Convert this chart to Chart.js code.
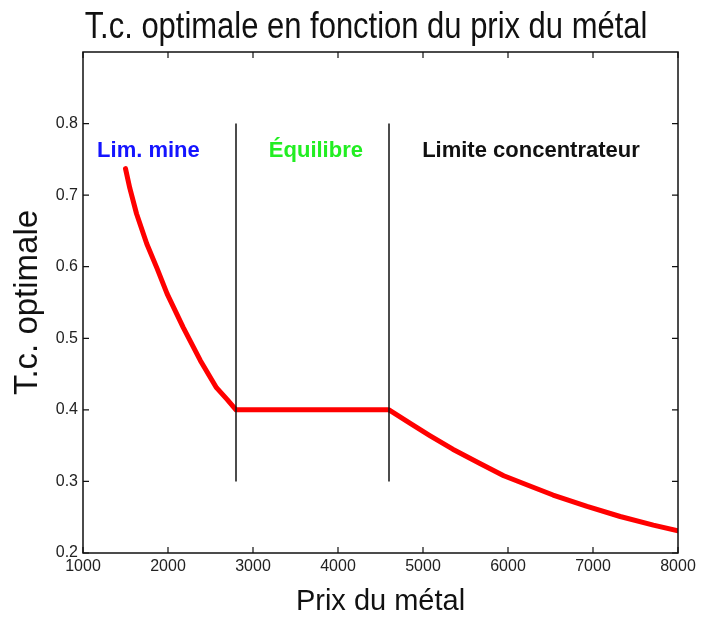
<!DOCTYPE html>
<html><head><meta charset="utf-8">
<script src="https://cdn.jsdelivr.net/npm/chart.js@4"></script>
<style>html,body{margin:0;padding:0;background:#fff}#wrap{width:701px;height:621px}</style>
</head><body><div id="wrap"><canvas id="c" width="701" height="621"></canvas></div>
<script>
// ---- data ----
const prixMetal  = [1500, 1550, 1630, 1750, 1870, 1990, 2180, 2380, 2570, 2700, 2800, 4600, 4850, 5080, 5350, 5670, 5950, 6250, 6530, 6930, 7320, 7710, 8000];
const tcOptimale = [0.737, 0.71, 0.674, 0.632, 0.598, 0.562, 0.515, 0.469, 0.431, 0.414, 0.40, 0.40, 0.381, 0.364, 0.345, 0.325, 0.308, 0.294, 0.281, 0.265, 0.251, 0.239, 0.231];
const frontieres = [2800, 4600];
const frontiereY = [0.3, 0.8];
const zoneNoms = ['Lim. mine', 'Équilibre', 'Limite concentrateur'];
const zoneAncreX = [1770, 3740, 6270];
const zoneAncreY = 0.762;
const zoneCouleurs = ['#1414ff', '#22ee22', '#111111'];
const xTicks = [1000, 2000, 3000, 4000, 5000, 6000, 7000, 8000];
const yTicks = [0.2, 0.3, 0.4, 0.5, 0.6, 0.7, 0.8];
const titre = 'T.c. optimale en fonction du prix du métal';

const fam = "'Liberation Sans', Arial, sans-serif";

const points = prixMetal.map((x, i) => ({x, y: tcOptimale[i]}));
const lignes = frontieres.map(x => ({
  data: frontiereY.map(y => ({x, y})),
  borderColor: '#111', borderWidth: 1.5, pointRadius: 0, showLine: true
}));

const framePlugin = {
  id: 'frame',
  afterDraw(chart){
    const {ctx, chartArea: a, scales: {x, y}} = chart;
    ctx.save();
    ctx.strokeStyle = '#111'; ctx.lineWidth = 1.5;
    ctx.strokeRect(a.left, a.top, a.right - a.left, a.bottom - a.top);
    ctx.lineWidth = 1.2;
    const L = 6;
    ctx.beginPath();
    xTicks.forEach(v => { const p = x.getPixelForValue(v);
      ctx.moveTo(p, a.bottom); ctx.lineTo(p, a.bottom - L);
      ctx.moveTo(p, a.top); ctx.lineTo(p, a.top + L); });
    yTicks.forEach(v => { const p = y.getPixelForValue(v);
      ctx.moveTo(a.left, p); ctx.lineTo(a.left + L, p);
      ctx.moveTo(a.right, p); ctx.lineTo(a.right - L, p); });
    ctx.stroke();
    // title (condensed look)
    ctx.fillStyle = '#111';
    ctx.font = '36px ' + fam;
    ctx.textAlign = 'center'; ctx.textBaseline = 'middle';
    ctx.translate(366, 28);
    ctx.scale(0.86, 1);
    ctx.fillText(titre, 0, 0);
    ctx.restore();
  }
};
const zonesPlugin = {
  id: 'zones',
  afterDatasetsDraw(chart){
    const {ctx, scales: {x, y}} = chart;
    ctx.save();
    ctx.font = 'bold 22px ' + fam;
    ctx.textAlign = 'center'; ctx.textBaseline = 'middle';
    zoneNoms.forEach((t, i) => {
      ctx.fillStyle = zoneCouleurs[i];
      ctx.fillText(t, x.getPixelForValue(zoneAncreX[i]), y.getPixelForValue(zoneAncreY));
    });
    ctx.restore();
  }
};

new Chart(document.getElementById('c'), {
  type: 'scatter',
  data: { datasets: [...lignes, {
    data: points, borderColor: '#ff0000', borderWidth: 5, pointRadius: 0,
    showLine: true, borderCapStyle: 'round', borderJoinStyle: 'round', tension: 0
  }]},
  options: {
    responsive: false, animation: false, devicePixelRatio: 1,
    layout: { padding: { left: 0, right: 23, top: 52, bottom: 0 } },
    plugins: {
      legend: { display: false }, tooltip: { enabled: false }, title: { display: false }
    },
    scales: {
      x: { type: 'linear', min: 1000, max: 8000,
        afterBuildTicks: s => { s.ticks = xTicks.map(v => ({value: v})); },
        afterFit: s => { s.height = 68; },
        grid: { display: false, drawTicks: false }, border: { display: false },
        ticks: { padding: 4, color: '#222', font: { family: fam, size: 16 }, callback: v => String(v), maxRotation: 0 },
        title: { display: true, text: 'Prix du métal', color: '#111',
          font: { family: fam, size: 29, lineHeight: 1 }, padding: { top: 0, bottom: 4.5 } } },
      y: { type: 'linear', min: 0.2, max: 0.9,
        afterBuildTicks: s => { s.ticks = yTicks.map(v => ({value: v})); },
        afterFit: s => { s.width = 83; },
        grid: { display: false, drawTicks: false }, border: { display: false },
        ticks: { padding: 5, color: '#222', font: { family: fam, size: 16 }, callback: v => Number(v).toFixed(1) },
        title: { display: true, text: 'T.c. optimale', color: '#111',
          font: { family: fam, size: 33, lineHeight: 1 }, padding: { top: 11.5, bottom: 0 } } }
    }
  },
  plugins: [framePlugin, zonesPlugin]
});
</script></body></html>
